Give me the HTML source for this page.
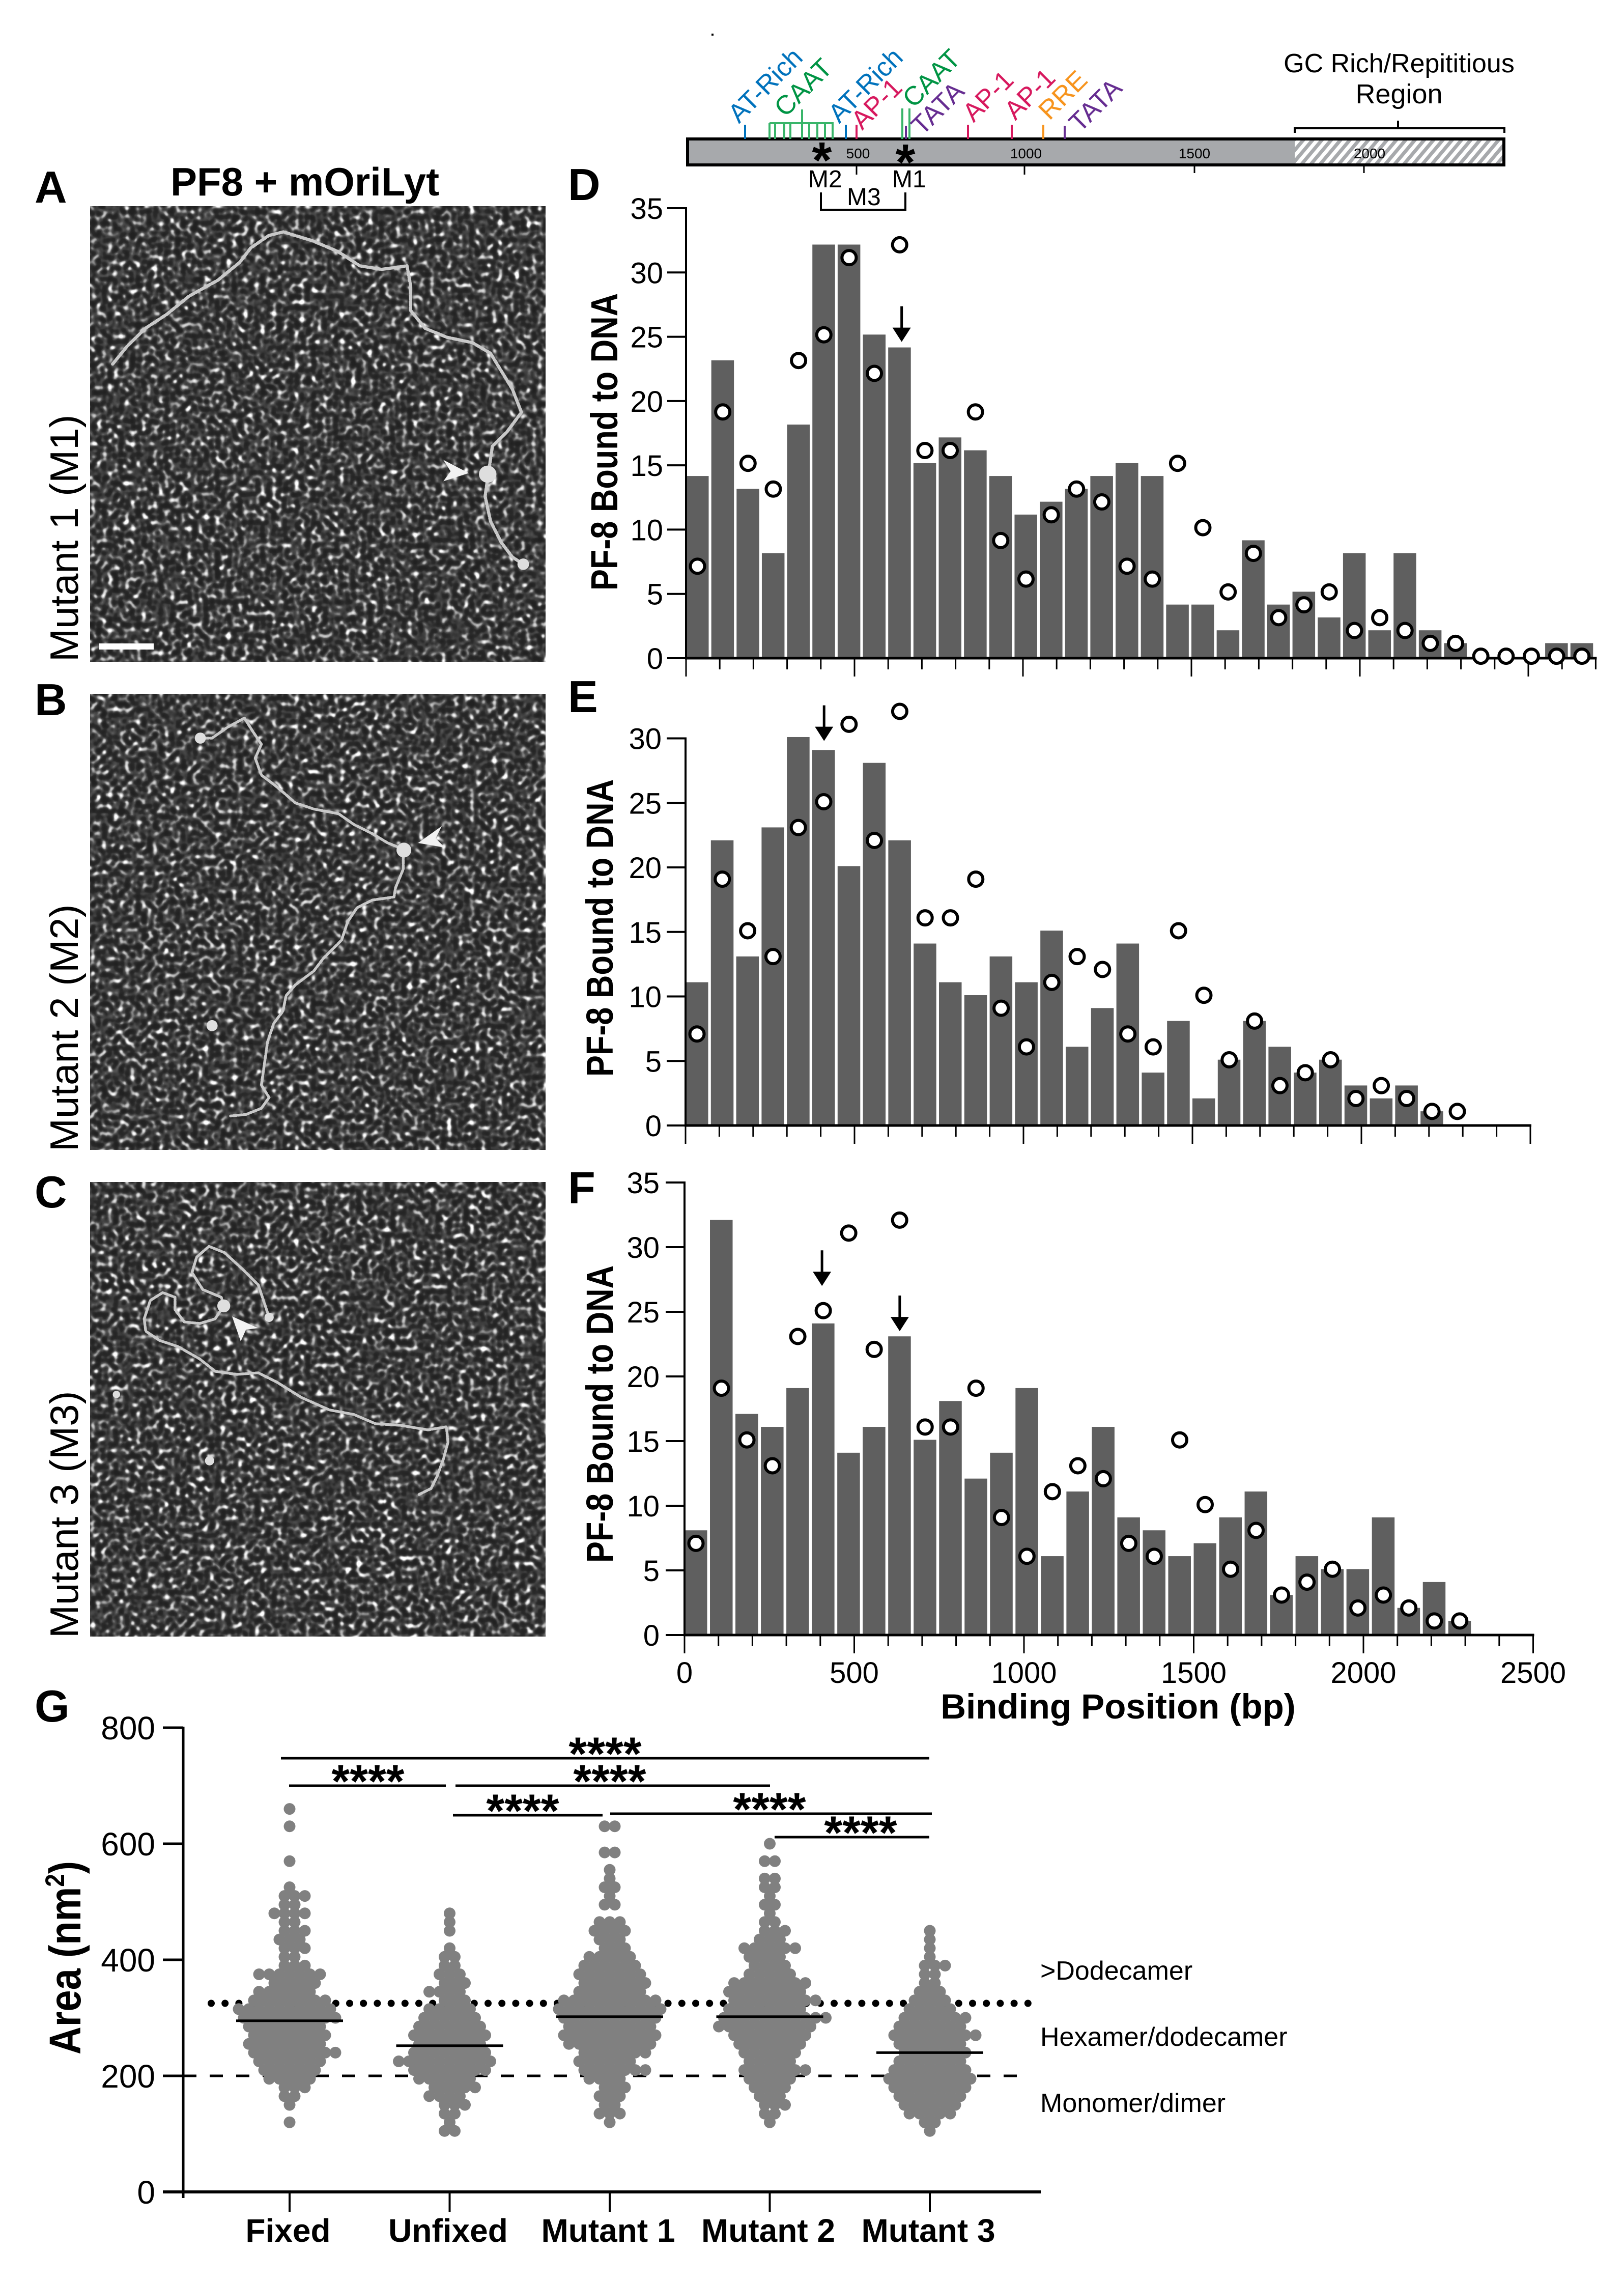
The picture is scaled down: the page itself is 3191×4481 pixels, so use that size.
<!DOCTYPE html>
<html lang="en">
<head>
<meta charset="utf-8">
<title>PF8 + mOriLyt binding</title>
<style>
html,body{margin:0;padding:0;background:#fff}
svg{display:block}
text{font-family:"Liberation Sans",sans-serif;fill:#000}
.b{font-weight:700}
.dna{fill:none;stroke:#c8c8c8;stroke-width:9;stroke-linejoin:round;stroke-linecap:round;stroke-dasharray:12 5}
.blob{fill:#dedede}
.lab{font-size:52px}
</style>
</head>
<body>
<svg id="fig" xmlns="http://www.w3.org/2000/svg" width="3191" height="4481" viewBox="0 0 3191 4481">
<defs>
<filter id="noiseA" x="0" y="0" width="100%" height="100%" color-interpolation-filters="sRGB">
<feTurbulence type="fractalNoise" baseFrequency="0.09" numOctaves="1" seed="3" result="t1"/>
<feColorMatrix in="t1" type="matrix" values="1 0 0 0 0 1 0 0 0 0 1 0 0 0 0 0 0 0 0 1" result="g1"/>
<feTurbulence type="fractalNoise" baseFrequency="0.09" numOctaves="1" seed="41" result="t2"/>
<feColorMatrix in="t2" type="matrix" values="1 0 0 0 0 1 0 0 0 0 1 0 0 0 0 0 0 0 0 1" result="g2"/>
<feComposite in="g1" in2="g2" operator="arithmetic" k1="1" k2="0" k3="0" k4="0" result="m"/>
<feColorMatrix in="m" type="matrix" values="1 0 0 0 0 0 1 0 0 0 0 0 1 0 0 0 0 0 0 1" result="m2"/>
<feComponentTransfer in="m2"><feFuncR type="table" tableValues=".13 .13 .17 .32 .7 1 1 1 1 1 1"/><feFuncG type="table" tableValues=".13 .13 .17 .32 .7 1 1 1 1 1 1"/><feFuncB type="table" tableValues=".13 .13 .17 .32 .7 1 1 1 1 1 1"/></feComponentTransfer>
</filter>
<filter id="noiseB" x="0" y="0" width="100%" height="100%" color-interpolation-filters="sRGB">
<feTurbulence type="fractalNoise" baseFrequency="0.09" numOctaves="1" seed="11" result="t1"/>
<feColorMatrix in="t1" type="matrix" values="1 0 0 0 0 1 0 0 0 0 1 0 0 0 0 0 0 0 0 1" result="g1"/>
<feTurbulence type="fractalNoise" baseFrequency="0.09" numOctaves="1" seed="57" result="t2"/>
<feColorMatrix in="t2" type="matrix" values="1 0 0 0 0 1 0 0 0 0 1 0 0 0 0 0 0 0 0 1" result="g2"/>
<feComposite in="g1" in2="g2" operator="arithmetic" k1="1" k2="0" k3="0" k4="0" result="m"/>
<feColorMatrix in="m" type="matrix" values="1 0 0 0 0 0 1 0 0 0 0 0 1 0 0 0 0 0 0 1" result="m2"/>
<feComponentTransfer in="m2"><feFuncR type="table" tableValues=".13 .13 .17 .32 .7 1 1 1 1 1 1"/><feFuncG type="table" tableValues=".13 .13 .17 .32 .7 1 1 1 1 1 1"/><feFuncB type="table" tableValues=".13 .13 .17 .32 .7 1 1 1 1 1 1"/></feComponentTransfer>
</filter>
<filter id="noiseC" x="0" y="0" width="100%" height="100%" color-interpolation-filters="sRGB">
<feTurbulence type="fractalNoise" baseFrequency="0.09" numOctaves="1" seed="23" result="t1"/>
<feColorMatrix in="t1" type="matrix" values="1 0 0 0 0 1 0 0 0 0 1 0 0 0 0 0 0 0 0 1" result="g1"/>
<feTurbulence type="fractalNoise" baseFrequency="0.09" numOctaves="1" seed="71" result="t2"/>
<feColorMatrix in="t2" type="matrix" values="1 0 0 0 0 1 0 0 0 0 1 0 0 0 0 0 0 0 0 1" result="g2"/>
<feComposite in="g1" in2="g2" operator="arithmetic" k1="1" k2="0" k3="0" k4="0" result="m"/>
<feColorMatrix in="m" type="matrix" values="1 0 0 0 0 0 1 0 0 0 0 0 1 0 0 0 0 0 0 1" result="m2"/>
<feComponentTransfer in="m2"><feFuncR type="table" tableValues=".13 .13 .17 .32 .7 1 1 1 1 1 1"/><feFuncG type="table" tableValues=".13 .13 .17 .32 .7 1 1 1 1 1 1"/><feFuncB type="table" tableValues=".13 .13 .17 .32 .7 1 1 1 1 1 1"/></feComponentTransfer>
</filter>
<pattern id="hatch" width="14" height="14" patternUnits="userSpaceOnUse" patternTransform="rotate(40)">
<rect width="14" height="14" fill="#a7a9ac"/><rect width="7" height="14" fill="#fff"/>
</pattern>
</defs>
<rect width="3191" height="4481" fill="#fff"/>

<!-- Panel letters -->
<g class="b" font-size="88">
<text class="b" x="68" y="398">A</text>
<text class="b" x="68" y="1405">B</text>
<text class="b" x="68" y="2372">C</text>
<text class="b" x="1116" y="393">D</text>
<text class="b" x="1116" y="1399">E</text>
<text class="b" x="1116" y="2364">F</text>
<text class="b" x="68" y="3382">G</text>
</g>
<text class="b" x="599" y="384" font-size="78" text-anchor="middle">PF8 + mOriLyt</text>
<text transform="translate(153,1300) rotate(-90)" font-size="78">Mutant 1 (M1)</text>
<text transform="translate(153,2262) rotate(-90)" font-size="78">Mutant 2 (M2)</text>
<text transform="translate(153,3218) rotate(-90)" font-size="78">Mutant 3 (M3)</text>

<!-- Micrographs -->
<g>
<rect x="177" y="405" width="895" height="895" fill="#555" filter="url(#noiseA)"/>
<g transform="translate(0,280) scale(.714,.702)">
<path class="dna" d="M310 620L350 570L400 520L460 480L520 430L600 385L660 335L690 295L740 260L780 250L860 275L930 305L990 345L1050 355L1120 345L1130 400L1130 470L1170 520L1230 545L1300 560L1350 590L1380 640L1410 690L1435 755L1395 810L1355 850L1345 920L1335 990L1350 1060L1380 1120L1410 1160L1440 1180"/>
<circle class="blob" cx="1342" cy="928" r="24"/>
<circle class="blob" cx="1440" cy="1180" r="16"/>
<polygon points="1220,888 1290,925 1220,948 1240,920" fill="#f2f2f2"/>
</g>
<rect x="195" y="1264" width="107" height="12" fill="#fff"/>
</g>
<g>
<rect x="177" y="1363" width="895" height="896" fill="#555" filter="url(#noiseB)"/>
<g transform="translate(150,1350) scale(.606)">
<path class="dna" d="M400 165L440 165L490 130L545 100L570 140L600 185L580 230L600 285L640 315L670 340L710 375L770 395L850 410L900 445L960 475L1010 505L1060 525L1060 590L1035 650L1030 680L960 690L910 715L880 760L860 820L800 880L770 920L710 965L680 1000L670 1050L640 1090L620 1150L610 1220L600 1290L625 1330L600 1365L550 1385L500 1390"/>
<circle class="blob" cx="1062" cy="528" r="24"/>
<circle class="blob" cx="402" cy="165" r="18"/>
<circle class="blob" cx="440" cy="1097" r="18"/>
<polygon points="1108,505 1185,450 1165,490 1195,520" fill="#f2f2f2"/>
</g>
</g>
<g>
<rect x="177" y="2322" width="895" height="893" fill="#555" filter="url(#noiseC)"/>
<g transform="translate(150,2300) scale(.606)">
<path class="dna" d="M625 475L610 430L590 370L540 320L480 265L430 245L390 280L375 330L410 385L470 410L478 438L450 480L400 495L350 490L320 450L320 410L280 395L240 420L220 480L225 520L270 550L330 570L400 610L450 650L520 660L590 655L650 685L730 735L820 775L900 790L970 820L1050 825L1140 840L1200 830L1205 880L1190 935L1170 990L1150 1030L1110 1050"/>
<circle class="blob" cx="478" cy="438" r="21"/>
<circle class="blob" cx="625" cy="475" r="15"/>
<circle class="blob" cx="432" cy="940" r="15"/>
<circle class="blob" cx="130" cy="725" r="12"/>
<polygon points="505,472 590,510 550,515 533,553" fill="#f2f2f2"/>
</g>
</g>

<!-- Genome map -->
<g>
<rect x="1398" y="66" width="4" height="4" fill="#000"/>
<rect x="1351" y="273" width="1193" height="51" fill="#a7a9ac"/>
<rect x="2544" y="276" width="410" height="45" fill="url(#hatch)"/>
<rect x="1351" y="273" width="1604" height="51" fill="none" stroke="#000" stroke-width="6"/>
<g font-size="28" text-anchor="middle">
<text x="1686" y="311">500</text>
<text x="2016" y="311">1000</text>
<text x="2347" y="311">1500</text>
<text x="2691" y="311">2000</text>
</g>
<path d="M1683 326V343M2013 326V343M2347 326V340M2680 326V340" stroke="#000" stroke-width="3" fill="none"/>
<path d="M1464 245V273M1662 245V273" stroke="#0072bc" stroke-width="4" fill="none"/>
<path d="M1512 242H1638M1512 242V273M1523 242V273M1541 242V273M1553 242V273M1576 215V273M1590 242V273M1606 242V273M1621 242V273M1636 242V273M1773 213V273M1787 213V273" stroke="#39b56a" stroke-width="4" fill="none"/>
<path d="M1683 245V273M1902 245V273M1988 245V273" stroke="#d7195e" stroke-width="4" fill="none"/>
<path d="M2050 245V273" stroke="#f7941d" stroke-width="4" fill="none"/>
<path d="M1780 247V273M2092 247V273" stroke="#662d91" stroke-width="4" fill="none"/>
<text class="lab" style="fill:#0072bc" transform="translate(1452,244) rotate(-45)">AT-Rich</text>
<text class="lab" style="fill:#009444" transform="translate(1543,232) rotate(-45)">CAAT</text>
<text class="lab" style="fill:#0072bc" transform="translate(1649,244) rotate(-45)">AT-Rich</text>
<text class="lab" style="fill:#d7195e" transform="translate(1694,257) rotate(-45)">AP-1</text>
<text class="lab" style="fill:#009444" transform="translate(1795,214) rotate(-45)">CAAT</text>
<text class="lab" style="fill:#662d91" transform="translate(1812,268) rotate(-45)">TATA</text>
<text class="lab" style="fill:#d7195e" transform="translate(1913,242) rotate(-45)">AP-1</text>
<text class="lab" style="fill:#d7195e" transform="translate(1995,238) rotate(-45)">AP-1</text>
<text class="lab" style="fill:#f7941d" transform="translate(2062,238) rotate(-45)">RRE</text>
<text class="lab" style="fill:#662d91" transform="translate(2122,262) rotate(-45)">TATA</text>
<text class="b" x="1615" y="349" font-size="100" text-anchor="middle">*</text>
<text class="b" x="1779" y="353" font-size="100" text-anchor="middle">*</text>
<text x="1588" y="368" font-size="48">M2</text>
<text x="1753" y="368" font-size="48">M1</text>
<text x="1664" y="403" font-size="48">M3</text>
<path d="M1613 378V412H1779V378" fill="none" stroke="#000" stroke-width="4"/>
<path d="M2544 261V252H2956V261M2747 252V237" fill="none" stroke="#000" stroke-width="4"/>
<text x="2749" y="142" font-size="52" text-anchor="middle">GC Rich/Repititious</text>
<text x="2749" y="203" font-size="54" text-anchor="middle">Region</text>
</g>

<!-- Histogram chart containers -->
<g id="panelD"></g>
<g id="panelE"></g>
<g id="panelF"></g>
<text class="b" x="2197" y="3376" font-size="69" text-anchor="middle">Binding Position (bp)</text>

<!-- Swarm chart container -->
<g id="panelG"></g>

<!-- Panel G static annotation -->
<g>
<path d="M552 3454H1826M568 3508H876M895 3508H1513M890 3566H1184M1199 3563H1831M1522 3609H1826" stroke="#000" stroke-width="5" fill="none"/>
<g class="b" font-size="92" text-anchor="middle">
<text class="b" x="1189" y="3477">****</text>
<text class="b" x="723" y="3531">****</text>
<text class="b" x="1198" y="3531">****</text>
<text class="b" x="1027" y="3589">****</text>
<text class="b" x="1512" y="3586">****</text>
<text class="b" x="1691" y="3632">****</text>
</g>
</g>
<text class="b" transform="translate(158,3846) rotate(-90) scale(1,1.15)" font-size="76" text-anchor="middle">Area (nm<tspan font-size="46" dy="-28">2</tspan><tspan dy="28">)</tspan></text>
<text x="2044" y="3889" font-size="52">&gt;Dodecamer</text>
<text x="2044" y="4019" font-size="52">Hexamer/dodecamer</text>
<text x="2044" y="4149" font-size="52">Monomer/dimer</text>
</svg>

<script>
// ---- Panels D/E/F data ----
const wildTypeCounts = [7,19,15,13,23,25,31,22,32,16,16,19,9,6,11,13,12,7,6,15,10,5,8,3,4,5,2,3,2,1,1,0,0,0,0,0];
const mutant1Counts = [14,23,13,8,18,32,32,25,24,15,17,16,14,11,12,13,14,15,14,4,4,2,9,4,5,3,8,2,8,2,1,0,0,0,1,1];
const mutant2Counts = [11,22,13,23,30,29,20,28,22,14,11,10,13,11,15,6,9,14,4,8,2,5,8,6,4,5,3,2,3,1];
const mutant3Counts = [8,32,17,16,19,24,14,16,23,15,18,12,14,19,6,11,16,9,8,6,7,9,11,3,6,5,5,9,2,4,1];
const yTicks35 = [0,5,10,15,20,25,30,35];
const yTicks30 = [0,5,10,15,20,25,30];
const xMajorTicks = [0,500,1000,1500,2000,2500];
const arrowsD = [[640,24.6]];
const arrowsE = [[410,29.8]];
const arrowsF = [[405,27],[634,23.5]];

// ---- Panel G data ----
const categories = ['Fixed','Unfixed','Mutant 1','Mutant 2','Mutant 3'];
const areaLevels = [105,120,135,150,165,180,195,210,225,240,255,270,285,300,315,330,345,360,375,390,405,420,435,450,465,480,495,510,525,540,555,570,585,600,615,630,645,660];
const fixedDots   = [0,1,0,1,2,3,5,6,7,9,8,8,8,10,10,8,6,5,7,3,2,3,3,3,2,4,2,3,1,0,0,1,0,0,0,1,0,1];
const unfixedDots = [2,1,2,3,4,5,6,8,10,8,7,8,7,6,5,3,4,3,3,2,2,1,0,1,1,1,0,0,0,0,0,0,0,0,0,0,0,0];
const mutant1Dots = [0,1,3,2,3,3,4,7,6,7,9,10,9,10,11,10,7,7,7,6,5,3,3,4,3,0,2,1,2,1,1,0,2,0,0,2,0,0];
const mutant2Dots = [0,1,2,3,3,4,5,7,5,6,7,8,10,11,8,9,8,8,5,4,4,6,3,3,2,1,2,1,2,2,0,2,0,1,0,0,0,0];
const mutant3Dots = [1,2,5,6,7,8,9,8,7,7,7,9,7,7,5,4,3,2,2,3,1,1,1,1,0,0,0,0,0,0,0,0,0,0,0,0,0,0];
const medians = [295,252,302,302,240];
const areaTicks = [0,200,400,600,800];
const thresholdDodecamer = 325;
const thresholdDimer = 200;

const NS = 'http://www.w3.org/2000/svg';
function mk(tag, attrs, parent){
  const el = document.createElementNS(NS, tag);
  for (const k in attrs) el.setAttribute(k, attrs[k]);
  parent.appendChild(el);
  return el;
}
function linear(d0,d1,r0,r1){ return v => r0 + (v-d0)*(r1-r0)/(d1-d0); }

function histogram(id, key, bars, yTicks, o){
  const root = document.getElementById(id);
  const xS = linear(0,2500,o.x0,o.x0+o.xPerBp*2500);
  const yS = linear(0,o.yMax,o.y0,o.yTop);
  const binBp = 75;
  const barPx = 44.5;
  bars.forEach((v,i)=>{
    if (v <= 0) return;
    const top = yS(v + o.shift);
    const r = mk('rect',{x:xS(i*binBp),y:top,width:barPx,height:o.y0-top,fill:'#5f5f5f'},root);
    
    
  });
  const yAxis = mk('line',{x1:o.x0,x2:o.x0,y1:yS(o.yMax)-2,y2:o.y0+2,stroke:'#000','stroke-width':4},root);
  
  
  const xAxis = mk('line',{x1:o.x0-2,x2:xS(o.xEnd)+2,y1:o.y0,y2:o.y0,stroke:'#000','stroke-width':5},root);
  
  
  yTicks.forEach(t=>{
    const tk = mk('line',{x1:o.x0-37,x2:o.x0,y1:yS(t),y2:yS(t),stroke:'#000','stroke-width':4},root);
    
    
    const lb = mk('text',{x:o.labelRight,y:yS(t)+21,'font-size':58,'text-anchor':'end'},root);
    
    
    lb.textContent = t;
  });
  for (let bp=0; bp<=o.xEnd; bp+=100){
    const major = xMajorTicks.indexOf(bp) >= 0;
    const tk = mk('line',{x1:xS(bp),x2:xS(bp),y1:o.y0,y2:o.y0+(major?36:22),stroke:'#000','stroke-width':3},root);
    
    
  }
  if (o.xLabels){
    xMajorTicks.forEach(t=>{
      const lb = mk('text',{x:xS(t),y:o.xLabelY,'font-size':58,'text-anchor':'middle'},root);
      
      
      lb.textContent = t;
    });
  }
  wildTypeCounts.slice(0,o.circleCount).forEach((v,i)=>{
    const c = mk('circle',{cx:xS(i*binBp)+22.5,cy:yS(v+o.shift*0.9),r:14,fill:'#fff',stroke:'#000','stroke-width':6},root);
    
    
  });
  o.arrows.forEach(a=>{
    const x = xS(a[0]), tip = yS(a[1]);
    const shaft = mk('line',{x1:x,x2:x,y1:tip-70,y2:tip-18,stroke:'#000','stroke-width':5},root);
    
    
    const head = mk('polygon',{points:(x-18)+','+(tip-28)+' '+(x+18)+','+(tip-28)+' '+x+','+tip,fill:'#000'},root);
    
    
  });
  const title = mk('text',{transform:'translate('+o.titleX+','+o.titleY+') rotate(-90) scale(1,1.18)','font-size':63,'font-weight':700,'text-anchor':'middle'},root);
  
  
  title.textContent = 'PF-8 Bound to DNA';
}

histogram('panelD','panel-d',mutant1Counts,yTicks35,{x0:1348,xPerBp:.662,xEnd:2700,y0:1293,yTop:409,yMax:35,shift:.17,labelRight:1303,xLabels:false,arrows:arrowsD,titleX:1213,titleY:868,circleCount:36});
histogram('panelE','panel-e',mutant2Counts,yTicks30,{x0:1347,xPerBp:.664,xEnd:2500,y0:2211,yTop:1450.5,yMax:30,shift:.1,labelRight:1300,xLabels:false,arrows:arrowsE,titleX:1204,titleY:1823,circleCount:31});
histogram('panelF','panel-f',mutant3Counts,yTicks35,{x0:1345,xPerBp:.667,xEnd:2500,y0:3212,yTop:2323,yMax:35,shift:.1,labelRight:1296,xLabels:true,xLabelY:3306,arrows:arrowsF,titleX:1204,titleY:2778,circleCount:31});

(function(){
  const root = document.getElementById('panelG');
  const yS = linear(0,800,4306,3394);
  const catX = i => 569 + 314.5*i;
  const groups = [fixedDots,unfixedDots,mutant1Dots,mutant2Dots,mutant3Dots];

  const dotted = mk('line',{x1:415,x2:2025,y1:yS(thresholdDodecamer),y2:yS(thresholdDodecamer),stroke:'#000','stroke-width':14,'stroke-linecap':'round','stroke-dasharray':'0 27.2'},root);
  
  
  const dashed = mk('line',{x1:360,x2:2024,y1:yS(thresholdDimer),y2:yS(thresholdDimer),stroke:'#000','stroke-width':5,'stroke-dasharray':'26 26'},root);
  
  

  groups.forEach((counts,g)=>{
    counts.forEach((n,l)=>{
      for (let i=0;i<n;i++){
        const dx = n >= 3 ? (i-Math.floor(n/2))*20 + (l%2 ? 10 : 0) : (i-(n-1)/2)*20;
        const c = mk('circle',{cx:catX(g)+dx,cy:yS(areaLevels[l]),r:11.5,fill:'#808080'},root);
        
        
      }
    });
  });
  medians.forEach((m,g)=>{
    const ln = mk('line',{x1:catX(g)-105,x2:catX(g)+105,y1:yS(m),y2:yS(m),stroke:'#000','stroke-width':5},root);
    
    
  });

  const yAxis = mk('line',{x1:360,x2:360,y1:yS(800)-2,y2:yS(0)+12,stroke:'#000','stroke-width':5},root);
  
  
  const xAxis = mk('line',{x1:320,x2:2045,y1:yS(0),y2:yS(0),stroke:'#000','stroke-width':6},root);
  
  
  areaTicks.forEach(t=>{
    const tk = mk('line',{x1:320,x2:360,y1:yS(t),y2:yS(t),stroke:'#000','stroke-width':5},root);
    
    
    const lb = mk('text',{x:305,y:yS(t)+23,'font-size':64,'text-anchor':'end'},root);
    
    
    lb.textContent = t;
  });
  categories.forEach((name,g)=>{
    const tk = mk('line',{x1:catX(g),x2:catX(g),y1:yS(0),y2:yS(0)+39,stroke:'#000','stroke-width':4},root);
    
    
    const lb = mk('text',{x:catX(g)-3,y:4404,'font-size':64,'font-weight':700,'text-anchor':'middle'},root);
    
    
    lb.textContent = name;
  });
})();
</script>
</body>
</html>
